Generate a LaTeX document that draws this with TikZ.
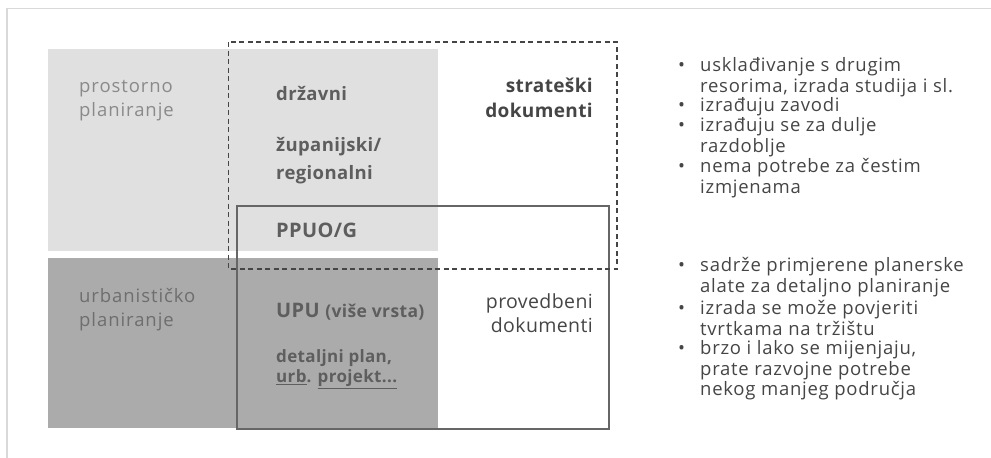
\documentclass[tikz,border=0pt]{standalone}
\usepackage{fontspec}
\setmainfont{Open Sans}
\newfontfamily\listfont[LetterSpace=4]{Open Sans}
\newfontfamily\sidefont[LetterSpace=5]{Open Sans}
\newfontfamily\headfont[LetterSpace=2]{Open Sans}
\definecolor{frame}{HTML}{D9D9D9}
\definecolor{lightbox}{HTML}{E0E0E0}
\definecolor{darkbox}{HTML}{ABABAB}
\definecolor{txtlight}{HTML}{8A8A8A}
\definecolor{txtmid}{HTML}{5E5E5E}
\definecolor{txtdark}{HTML}{454545}
\begin{document}
\begin{tikzpicture}[
  x=1pt, y=-1pt,
  line join=miter,
  lbl/.style={anchor=north west, inner sep=0pt, align=left},
  rlbl/.style={anchor=north east, inner sep=0pt, align=right},
  bul/.style={anchor=north west, inner sep=0pt, align=left, text=txtdark,
    font=\listfont\fontsize{18.5}{20.3}\selectfont},
  dot/.style={anchor=north west, inner sep=0pt, text=txtdark,
    font=\listfont\fontsize{18.5}{20.3}\selectfont}
]
  \useasboundingbox (0,0) rectangle (991,458);

  % Okvir
  \draw[frame, line width=1.5pt] (991,8.5) -- (7,8.5) -- (7,458);

  % Polja
  \coordinate (P1) at (48,49);
  \coordinate (P2) at (438,251);
  \coordinate (U1) at (48,258);
  \coordinate (U2) at (438,428);
  \fill[lightbox] (P1) rectangle (P2);
  \fill[darkbox] (U1) rectangle (U2);

  % Provedbeni (puni okvir)
  \coordinate (S1) at (237,206);
  \coordinate (S2) at (609,429);
  \draw[txtmid!95, line width=2.3pt] (S1) rectangle (S2);

  % Strateski (crtkani okvir)
  \coordinate (D1) at (228.5,42);
  \coordinate (D2) at (617,269);
  \draw[txtdark, line width=1.2pt, dash pattern=on 5pt off 3.5pt] (D1) rectangle (D2);

  % Lijevi stupac
  \node[lbl, text=txtlight, font=\sidefont\fontsize{18.5}{24}\selectfont] (prost) at (79,75)
    {\strut prostorno\\planiranje};
  \node[lbl, text=txtmid!90, font=\sidefont\fontsize{18.5}{24}\selectfont] (urb) at (79,285)
    {\strut urbanističko\\planiranje};

  % Razine
  \node[lbl, text=txtmid, font=\headfont\bfseries\fontsize{18.5}{28}\selectfont] (drz) at (276,80.5)
    {\strut državni};
  \node[lbl, text=txtmid, font=\headfont\bfseries\fontsize{18.5}{28}\selectfont] (zup) at (276,132)
    {\strut županijski/\\regionalni};
  \node[lbl, text=txtmid, font=\headfont\bfseries\fontsize{20}{24}\selectfont] (ppuo) at (276,220)
    {\strut PPUO/G};
  \node[lbl, text=txtmid, font=\headfont\bfseries\fontsize{20}{24}\selectfont] (upu) at (276,300)
    {\strut UPU {\fontsize{17.5}{20}\selectfont(više vrsta)}};
  \node[lbl, text=txtmid, font=\headfont\bfseries\fontsize{17}{20}\selectfont] (dpu) at (276,348.5)
    {\strut detaljni plan,\\\underline{urb}. \underline{projekt...}};

  % Vrste dokumenata
  \node[rlbl, text=txtdark, font=\headfont\bfseries\fontsize{19}{25}\selectfont] (strat) at (593,75)
    {\strut strateški\\dokumenti};
  \node[rlbl, text=txtdark, font=\headfont\fontsize{19.5}{24}\selectfont] (proved) at (593,291.5)
    {\strut provedbeni\\dokumenti};

  % Obiljezja strateskih
  \node[dot] (d1) at (678,57.3) {\strut•};
  \node[bul] (b1) at (700,57.3) {\strut usklađivanje s drugim\\resorima, izrada studija i sl.};
  \node[dot] (d2) at (678,97.3) {\strut•};
  \node[bul] (b2) at (700,97.3) {\strut izrađuju zavodi};
  \node[dot] (d3) at (678,117.3) {\strut•};
  \node[bul] (b3) at (700,117.3) {\strut izrađuju se za dulje\\razdoblje};
  \node[dot] (d4) at (678,158.3) {\strut•};
  \node[bul] (b4) at (700,158.3) {\strut nema potrebe za čestim\\izmjenama};

  % Obiljezja provedbenih
  \node[dot] (d5) at (678,257.3) {\strut•};
  \node[bul] (b5) at (700,257.3) {\strut sadrže primjerene planerske\\alate za detaljno planiranje};
  \node[dot] (d6) at (678,300.3) {\strut•};
  \node[bul] (b6) at (700,300.3) {\strut izrada se može povjeriti\\tvrtkama na tržištu};
  \node[dot] (d7) at (678,340.3) {\strut•};
  \node[bul] (b7) at (700,340.3) {\strut brzo i lako se mijenjaju,\\prate razvojne potrebe\\nekog manjeg područja};
\end{tikzpicture}
\end{document}
